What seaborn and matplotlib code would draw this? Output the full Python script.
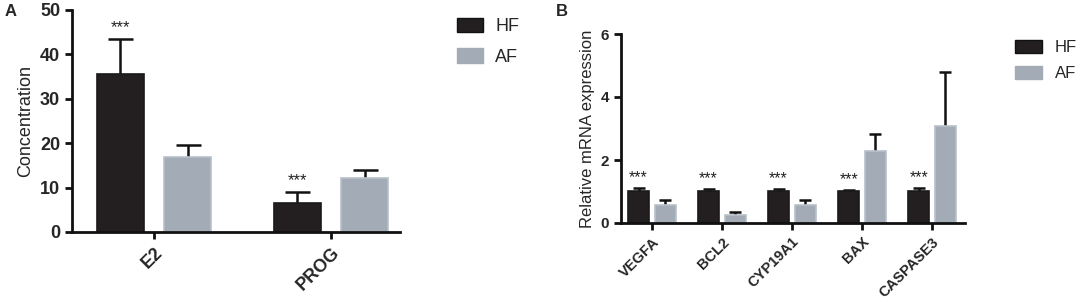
import matplotlib
matplotlib.use("Agg")
import matplotlib.pyplot as plt
import seaborn as sns
import pandas as pd
from matplotlib.patches import Patch

sns.set_theme(style="ticks")
plt.rcParams['font.family'] = ['Liberation Sans', 'DejaVu Sans']

groups = ["HF", "AF"]
colors = ["#231f20", "#a3abb6"]

# Panel A
cats_a = ["E2", "PROG"]
hf_a = [35.5, 6.6]
hf_a_err = [8.0, 2.3]
af_a = [16.8, 12.2]
af_a_err = [2.7, 1.8]

# Panel B
cats_b = ["VEGFA", "BCL2", "CYP19A1", "BAX", "CASPASE3"]
hf_b = [1.03, 1.02, 1.02, 1.02, 1.03]
hf_b_err = [0.08, 0.05, 0.06, 0.03, 0.07]
af_b = [0.56, 0.24, 0.56, 2.27, 3.07]
af_b_err = [0.17, 0.12, 0.17, 0.56, 1.73]

W, H = 1084, 299
fig = plt.figure(figsize=(W / 100, H / 100), dpi=100)


def make_axes(x0, x1, ytop, ybot):
    return fig.add_axes([x0 / W, (H - ybot) / H, (x1 - x0) / W, (ybot - ytop) / H])


def panel(ax, cats, hf, hf_err, af, af_err, gap, capsize, tick_fs, xtick_fs, star_fs, star_off):
    df = pd.DataFrame({
        "cat": cats + cats,
        "group": ["HF"] * len(cats) + ["AF"] * len(cats),
        "val": hf + af,
    })
    sns.barplot(data=df, x="cat", y="val", hue="group", hue_order=groups,
                order=cats, palette=colors, width=0.76, gap=gap, errorbar=None,
                legend=False, ax=ax, saturation=1, linewidth=1.2, edgecolor="#1a1a1a")
    bars = ax.patches
    n = len(cats)
    errs = hf_err + af_err
    vals = hf + af
    for i, p in enumerate(bars[:2 * n]):
        p.set_zorder(2)
        xc = p.get_x() + p.get_width() / 2
        if i >= n:
            p.set_edgecolor("#b9c0ca")
        _, caplines, _ = ax.errorbar([xc], [vals[i]], yerr=[[0], [errs[i]]], fmt="none",
                                     ecolor="#111111", elinewidth=1.8, capsize=capsize,
                                     capthick=1.8, zorder=1)
        for cl in caplines:
            if abs(cl.get_ydata()[0] - vals[i]) < 1e-9:
                cl.set_visible(False)
        if i < n:
            ax.annotate("***", (xc, vals[i] + errs[i]), xytext=(0, star_off),
                        textcoords="offset points", ha="center", va="bottom",
                        fontsize=star_fs, color="#222222")
    for s in ["top", "right"]:
        ax.spines[s].set_visible(False)
    for s in ["left", "bottom"]:
        ax.spines[s].set_linewidth(2)
        ax.spines[s].set_color("#111111")
    ax.tick_params(axis="both", width=2, length=5, color="#111111", labelsize=tick_fs)
    for lab in ax.get_yticklabels():
        lab.set_fontweight("bold")
    ax.set_xticks(range(len(cats)))
    ax.set_xticklabels(cats, rotation=45, ha="right", rotation_mode="anchor",
                       fontweight="bold", fontsize=xtick_fs)
    ax.set_xlabel("")


def legend(ax, x, y, fs, hl, hh, ls, pad):
    ax.legend(handles=[Patch(facecolor=colors[0], edgecolor="#111111", label="HF"),
                       Patch(facecolor=colors[1], edgecolor=colors[1], label="AF")],
              loc="upper left", bbox_to_anchor=(x / W, (H - y) / H),
              bbox_transform=fig.transFigure, frameon=False, fontsize=fs,
              handlelength=hl, handleheight=hh, labelspacing=ls, handletextpad=pad,
              borderpad=0, borderaxespad=0)


# Panel A
axA = make_axes(72, 400, 10, 232)
panel(axA, cats_a, hf_a, hf_a_err, af_a, af_a_err, gap=0.3, capsize=9,
      tick_fs=13, xtick_fs=13, star_fs=12, star_off=3)
axA.set_ylim(0, 50)
axA.set_yticks([0, 10, 20, 30, 40, 50])
axA.set_xlim(-0.463, 1.39)
axA.set_ylabel("Concentration", fontsize=13)
legend(axA, 457, 18, 13, 1.45, 0.83, 0.72, 0.67)

# Panel B
axB = make_axes(621, 965, 34, 223)
panel(axB, cats_b, hf_b, hf_b_err, af_b, af_b_err, gap=0.21, capsize=4,
      tick_fs=11, xtick_fs=10.5, star_fs=11.5, star_off=2)
axB.set_ylim(0, 6)
axB.set_yticks([0, 2, 4, 6])
axB.set_xlim(-0.44, 4.47)
axB.set_ylabel("Relative mRNA expression", fontsize=12)
legend(axB, 1015, 40, 12, 1.6, 0.78, 0.68, 0.78)

fig.text(5 / W, (H - 4) / H, "A", fontsize=12, fontweight="bold", va="top", ha="left")
fig.text(556 / W, (H - 4) / H, "B", fontsize=12, fontweight="bold", va="top", ha="left")

fig.savefig("out.png", dpi=100, facecolor="white")
